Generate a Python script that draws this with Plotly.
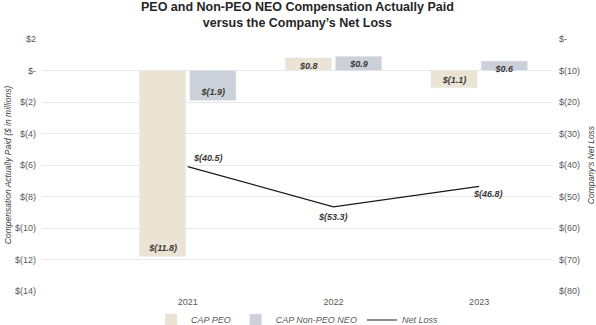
import plotly.graph_objects as go

years = ["2021", "2022", "2023"]
cap_peo = [-11.8, 0.8, -1.1]
cap_non_peo = [-1.9, 0.9, 0.6]
net_loss = [-40.5, -53.3, -46.8]

left_tickvals = [2, 0, -2, -4, -6, -8, -10, -12, -14]
left_ticktext = ["$2", "$-", "$(2)", "$(4)", "$(6)", "$(8)", "$(10)", "$(12)", "$(14)"]
right_tickvals = [0, -10, -20, -30, -40, -50, -60, -70, -80]
right_ticktext = ["$-", "$(10)", "$(20)", "$(30)", "$(40)", "$(50)", "$(60)", "$(70)", "$(80)"]

def money(v):
    return f"${v:.1f}" if v >= 0 else f"$({abs(v):.1f})"

FONT = "Liberation Sans, Arial, sans-serif"
LBL = dict(family=FONT, size=9, color="#3a3a3a")

fig = go.Figure()
fig.add_trace(go.Bar(
    x=years, y=cap_peo, name="<i>CAP PEO</i>", marker_color="#EBE3D4",
    text=[f"<b><i>{money(v)}</i></b>" for v in cap_peo],
    textposition="inside", insidetextanchor="end", textfont=LBL,
    textangle=0,
))
fig.add_trace(go.Bar(
    x=years, y=cap_non_peo, name="<i>CAP Non-PEO NEO</i>", marker_color="#CBD0D9",
    text=[f"<b><i>{money(v)}</i></b>" for v in cap_non_peo],
    textposition="inside", insidetextanchor="end", textfont=LBL,
    textangle=0,
))
fig.add_trace(go.Scatter(
    x=years, y=net_loss, name="<i>Net Loss</i>", yaxis="y2", mode="lines",
    line=dict(color="#1a1a1a", width=1.2),
))

shifts = [dict(xanchor="left", yanchor="bottom", xshift=3, yshift=2),
          dict(xanchor="center", yanchor="top", xshift=0, yshift=-3),
          dict(xanchor="center", yanchor="top", xshift=9, yshift=-1)]
for i, (v, s) in enumerate(zip(net_loss, shifts)):
    fig.add_annotation(x=i, y=v, xref="x", yref="y2", text=f"<b><i>{money(v)}</i></b>",
                       showarrow=False, font=LBL, **s)

fig.add_annotation(x=0.5, y=1, xref="paper", yref="paper", xanchor="center", yanchor="bottom",
                   yshift=7, showarrow=False,
                   text="<b>PEO and Non-PEO NEO Compensation Actually Paid<br>versus the Company’s Net Loss</b>",
                   font=dict(family=FONT, size=12.5, color="#262626"))

fig.update_layout(
    width=596, height=325,
    margin=dict(l=42, r=44, t=39, b=34, autoexpand=False),
    paper_bgcolor="white", plot_bgcolor="white",
    font=dict(family=FONT, size=9, color="#595959"),
    barmode="group", bargap=0.31, bargroupgap=0.08,
    uniformtext=dict(minsize=9, mode="show"),
    showlegend=True,
    legend=dict(orientation="h", x=0.5, xanchor="center", y=-0.115, yanchor="middle",
                bgcolor="rgba(0,0,0,0)",
                font=dict(family=FONT, size=9, color="#595959"), itemwidth=30,
                traceorder="normal"),
    xaxis=dict(type="category", range=[-1.0, 2.5], showgrid=False, showline=False,
               ticks="", ticklabelstandoff=4, tickfont=dict(size=9, color="#595959")),
    yaxis=dict(range=[-14, 2], tickvals=left_tickvals, ticktext=left_ticktext,
               showgrid=True, gridcolor="#E8E8E8", gridwidth=1, zeroline=False,
               ticks="", ticklabelstandoff=5, tickfont=dict(size=9, color="#595959"),
               title=dict(text="<i>Compensation Actually Paid ($ in millions)</i>", standoff=2,
                          font=dict(size=8.5, color="#404040"))),
    yaxis2=dict(range=[-80, 0], tickvals=right_tickvals, ticktext=right_ticktext,
                overlaying="y", side="right", showgrid=False, zeroline=False,
                ticks="", ticklabelstandoff=6, tickfont=dict(size=9, color="#595959"),
                title=dict(text="<i>Company’s Net Loss</i>", standoff=9,
                           font=dict(size=8.5, color="#404040"))),
)

fig.write_html("out.html")
